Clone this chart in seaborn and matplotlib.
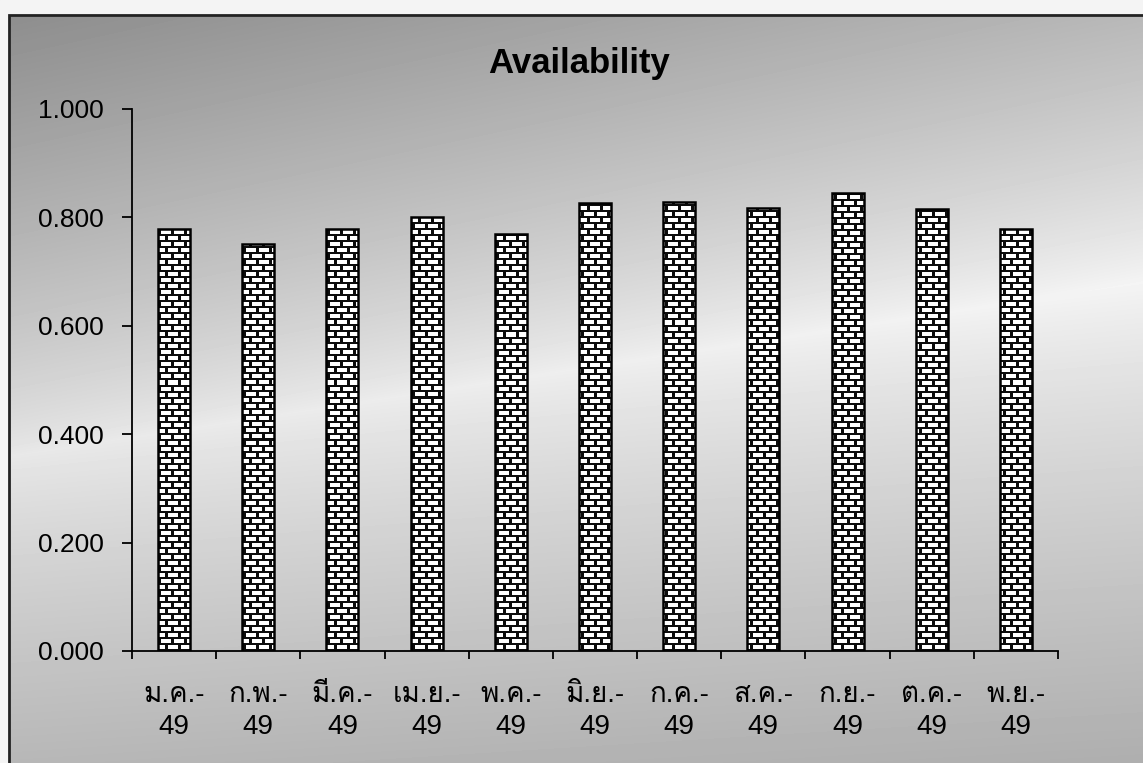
import numpy as np
import pandas as pd
import matplotlib
matplotlib.use('Agg')
import matplotlib.pyplot as plt
from matplotlib.patches import Rectangle
import seaborn as sns

# data
months = ['ม.ค.', 'ก.พ.', 'มี.ค.', 'เม.ย.', 'พ.ค.', 'มิ.ย.',
          'ก.ค.', 'ส.ค.', 'ก.ย.', 'ต.ค.', 'พ.ย.']
year = '49'
availability = [0.779, 0.751, 0.779, 0.801, 0.770, 0.827,
                0.829, 0.818, 0.845, 0.816, 0.779]
yticks = [0.0, 0.2, 0.4, 0.6, 0.8, 1.0]

labels = [f'{m}-\n{year}' for m in months]
df = pd.DataFrame({'month': labels, 'availability': availability})

sns.set_theme(style='white')
plt.rcParams['font.family'] = ['Liberation Sans', 'Loma', 'DejaVu Sans']

W, H = 1143, 763
fig = plt.figure(figsize=(W / 100, H / 100), dpi=100)

# gradient grey background (Excel style fill)
bg = fig.add_axes([0, 0, 1, 1], zorder=-10)
u = np.linspace(0, 1, W)[None, :]
v = np.linspace(0, 1, H)[:, None]
centre = 0.60 - 0.23 * u
d = v - centre
fall = np.where(d < 0, 0.55, 0.40)
shade = 0.91 - fall * np.abs(d) ** 0.8 + 0.05 * u
shade = np.clip(shade, 0, 1)
bg.imshow(shade, cmap='gray', vmin=0, vmax=1, aspect='auto',
          extent=(0, 1, 0, 1), origin='upper', interpolation='bilinear')
# white scan margin outside the chart frame
bg.add_patch(Rectangle((0, 0), 9 / W, 1, color='#f4f4f4', zorder=2))
bg.add_patch(Rectangle((0, 1 - 15 / H), 1, 15 / H, color='#f4f4f4', zorder=2))
bg.add_patch(Rectangle((9 / W, -0.01), 1.01, 1 - 15 / H + 0.01, fill=False,
                       edgecolor='#222222', linewidth=2, zorder=3))
bg.set_xlim(0, 1)
bg.set_ylim(0, 1)
bg.axis('off')

left, right, top, bottom = 132, 1058, 109, 651
ax = fig.add_axes([left / W, 1 - bottom / H, (right - left) / W, (bottom - top) / H])
ax.patch.set_alpha(0)

sns.barplot(data=df, x='month', y='availability', color='white',
            edgecolor='black', linewidth=1.8, width=0.38, saturation=1, ax=ax)

ax.set_xlim(-0.5, len(months) - 0.5)
ax.set_ylim(0, 1.0)

# brick texture, clipped to each bar
pw, ph = right - left, bottom - top
tex = np.ones((ph, pw))
rows = np.arange(ph)[:, None]
cols = np.arange(pw)[None, :]
row_idx = rows // 6
mortar_h = (rows % 6) < 2
shift = (row_idx % 2) * 6
mortar_v = ((cols + shift) % 13) < 3
tex[mortar_h | mortar_v] = 0.05
for bar in list(ax.patches):
    im = ax.imshow(tex, cmap='gray', vmin=0, vmax=1, aspect='auto',
                   extent=(-0.5, len(months) - 0.5, 0, 1.0), origin='upper',
                   interpolation='nearest', zorder=3)
    im.set_clip_path(bar)
    bar.set_facecolor('none')
    bar.set_zorder(4)
ax.set_xlim(-0.5, len(months) - 0.5)
ax.set_ylim(0, 1.0)

for side in ['top', 'right']:
    ax.spines[side].set_visible(False)
for side in ['left', 'bottom']:
    ax.spines[side].set_color('black')
    ax.spines[side].set_linewidth(1.3)

ax.set_yticks(yticks)
ax.set_yticklabels([f'{t:.3f}' for t in yticks])
ax.tick_params(axis='y', direction='out', length=7, width=1.3, color='black',
               pad=13, labelsize=19, labelcolor='black', left=True)

ax.set_xticks(range(len(months)))
ax.set_xticklabels(labels, fontsize=20, linespacing=1.3)
ax.set_xticks(np.arange(-0.5, len(months)), minor=True)
ax.tick_params(axis='x', which='major', length=0, pad=22, labelcolor='black')
ax.tick_params(axis='x', which='minor', direction='out', length=6, width=1.3,
               color='black', bottom=True)

ax.set_xlabel('')
ax.set_ylabel('')
ax.grid(False)

fig.text(579 / W, 1 - 64 / H, 'Availability', ha='center', va='center',
         fontsize=25, fontweight='bold', color='black')

fig.savefig('out.png', dpi=100)
